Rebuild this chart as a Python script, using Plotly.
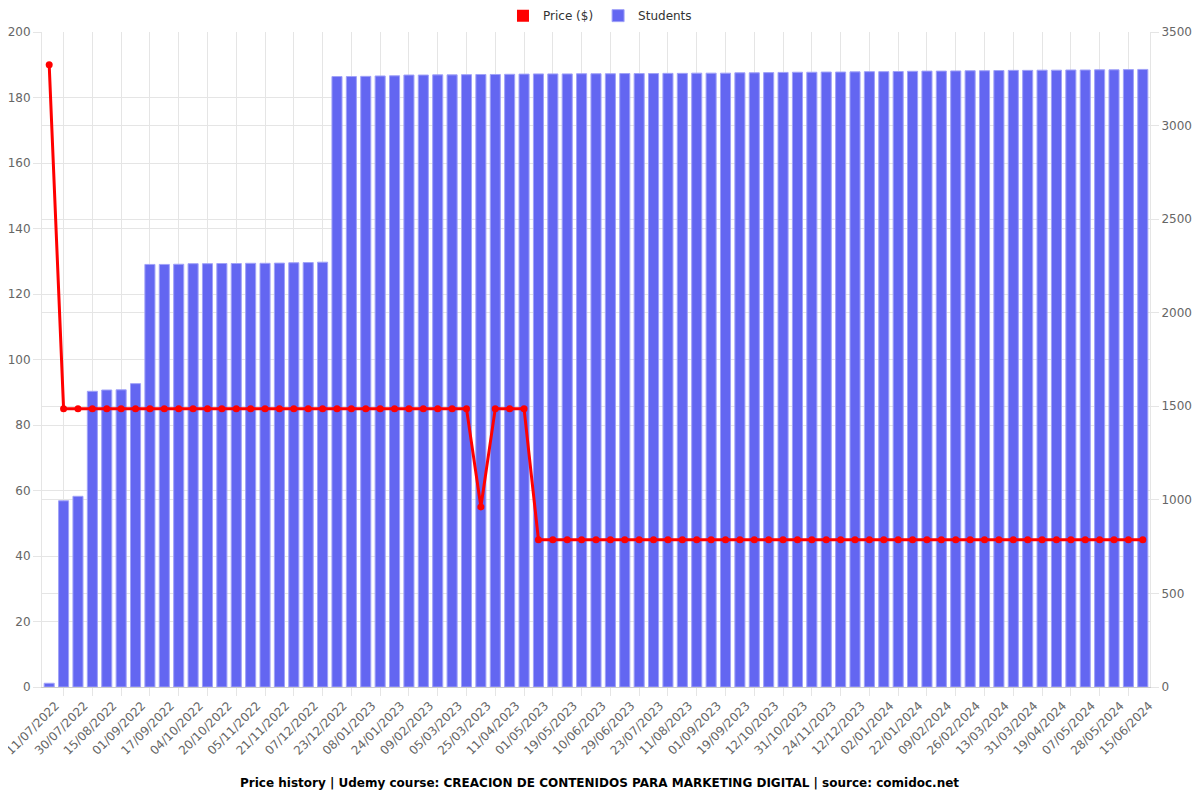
import plotly.graph_objects as go

tick_labels = ["11/07/2022", "30/07/2022", "15/08/2022", "01/09/2022", "17/09/2022", "04/10/2022",
               "20/10/2022", "05/11/2022", "21/11/2022", "07/12/2022", "23/12/2022", "08/01/2023",
               "24/01/2023", "09/02/2023", "05/03/2023", "25/03/2023", "11/04/2023", "01/05/2023",
               "19/05/2023", "10/06/2023", "29/06/2023", "23/07/2023", "11/08/2023", "01/09/2023",
               "19/09/2023", "12/10/2023", "31/10/2023", "24/11/2023", "12/12/2023", "02/01/2024",
               "22/01/2024", "09/02/2024", "26/02/2024", "13/03/2024", "31/03/2024", "19/04/2024",
               "07/05/2024", "28/05/2024", "15/06/2024"]

price = [190] + [85] * 29 + [55] + [85] * 3 + [45] * 43

students = [20, 995, 1019, 1580, 1587, 1588, 1621,
            2258, 2258, 2259, 2262, 2262, 2263, 2263, 2264, 2264, 2265, 2267, 2268, 2270,
            3262, 3262, 3263, 3265, 3266,
            3270, 3270, 3271, 3271, 3272, 3273, 3273, 3274, 3275,
            3276, 3276, 3276, 3277, 3277, 3277, 3278, 3278, 3278, 3279, 3279, 3280, 3280, 3280,
            3282, 3282, 3283, 3284, 3285, 3285, 3286, 3286, 3287,
            3288, 3288, 3289, 3290, 3291, 3291, 3292, 3293, 3293, 3294,
            3295, 3295, 3296, 3296, 3297, 3297, 3298, 3298, 3299, 3300]

idx = list(range(len(price)))
# labels sit on every other bar; nudged slightly right like the reference's rotated labels
tick_pos = [i + 0.45 for i in idx[::2]]

font = "DejaVu Sans, Verdana, sans-serif"
grid = "#e5e5e5"
red = "#ff0000"
blue = "#6366f1"

fig = go.Figure()
# legend swatch for price (rectangle style, as in reference)
fig.add_trace(go.Bar(
    x=[0], y=[0], name="Price ($)", yaxis="y", legendgroup="price",
    marker=dict(color=red, line=dict(width=0)), hoverinfo="skip", width=0.01,
))
fig.add_trace(go.Bar(
    x=idx, y=students, name="Students", yaxis="y",
    marker=dict(color=blue, line=dict(color="rgba(160,162,248,1)", width=1)),
    width=0.7,
))
fig.add_trace(go.Scatter(
    x=idx, y=price, name="Price ($)", yaxis="y2", mode="lines+markers", legendgroup="price",
    showlegend=False,
    line=dict(color=red, width=3), marker=dict(color=red, size=7),
))

fig.update_layout(
    width=1200, height=800,
    margin=dict(l=34, r=58, t=24, b=121, autoexpand=False),
    paper_bgcolor="white", plot_bgcolor="white",
    font=dict(family=font, size=12, color="#666"),
    showlegend=True,
    barmode="overlay",
    legend=dict(orientation="h", x=0.5036, xanchor="center", y=1.025, yanchor="middle",
                font=dict(size=12, color="#333"), traceorder="normal"),
    annotations=[dict(
        text="<b>Price history | Udemy course: CREACION DE CONTENIDOS PARA MARKETING DIGITAL | source: comidoc.net</b>",
        xref="paper", yref="paper", x=0.5036, y=-0.1466, xanchor="center", yanchor="middle",
        showarrow=False, font=dict(size=12, color="#000", family=font))],
    xaxis=dict(range=[-0.5, len(idx) - 0.5], tickmode="array", tickvals=tick_pos, ticktext=tick_labels,
               tickangle=-45, showgrid=False, ticks="", showline=True, linecolor="#cccccc",
               automargin=False, ticklabeloverflow="allow", ticklabelstandoff=6,
               minor=dict(tick0=1, dtick=2, showgrid=True, gridcolor=grid, ticks="outside",
                          ticklen=8, tickcolor=grid),
               tickfont=dict(size=12, color="#666"), zeroline=False),
    yaxis=dict(side="right", range=[0, 3500], tick0=0, dtick=500, showgrid=True, gridcolor=grid,
               zeroline=False, ticks="outside", ticklen=8, tickcolor=grid, showline=True, linecolor=grid,
               automargin=False, ticklabeloverflow="allow", tickfont=dict(size=12, color="#666")),
    yaxis2=dict(side="left", overlaying="y", range=[0, 200], tick0=0, dtick=20, showgrid=True,
                gridcolor=grid, zeroline=False, ticks="outside", ticklen=8, tickcolor=grid,
                showline=True, linecolor=grid, automargin=False, ticklabeloverflow="allow",
                tickfont=dict(size=12, color="#666")),
)

fig.write_html("out.html")
